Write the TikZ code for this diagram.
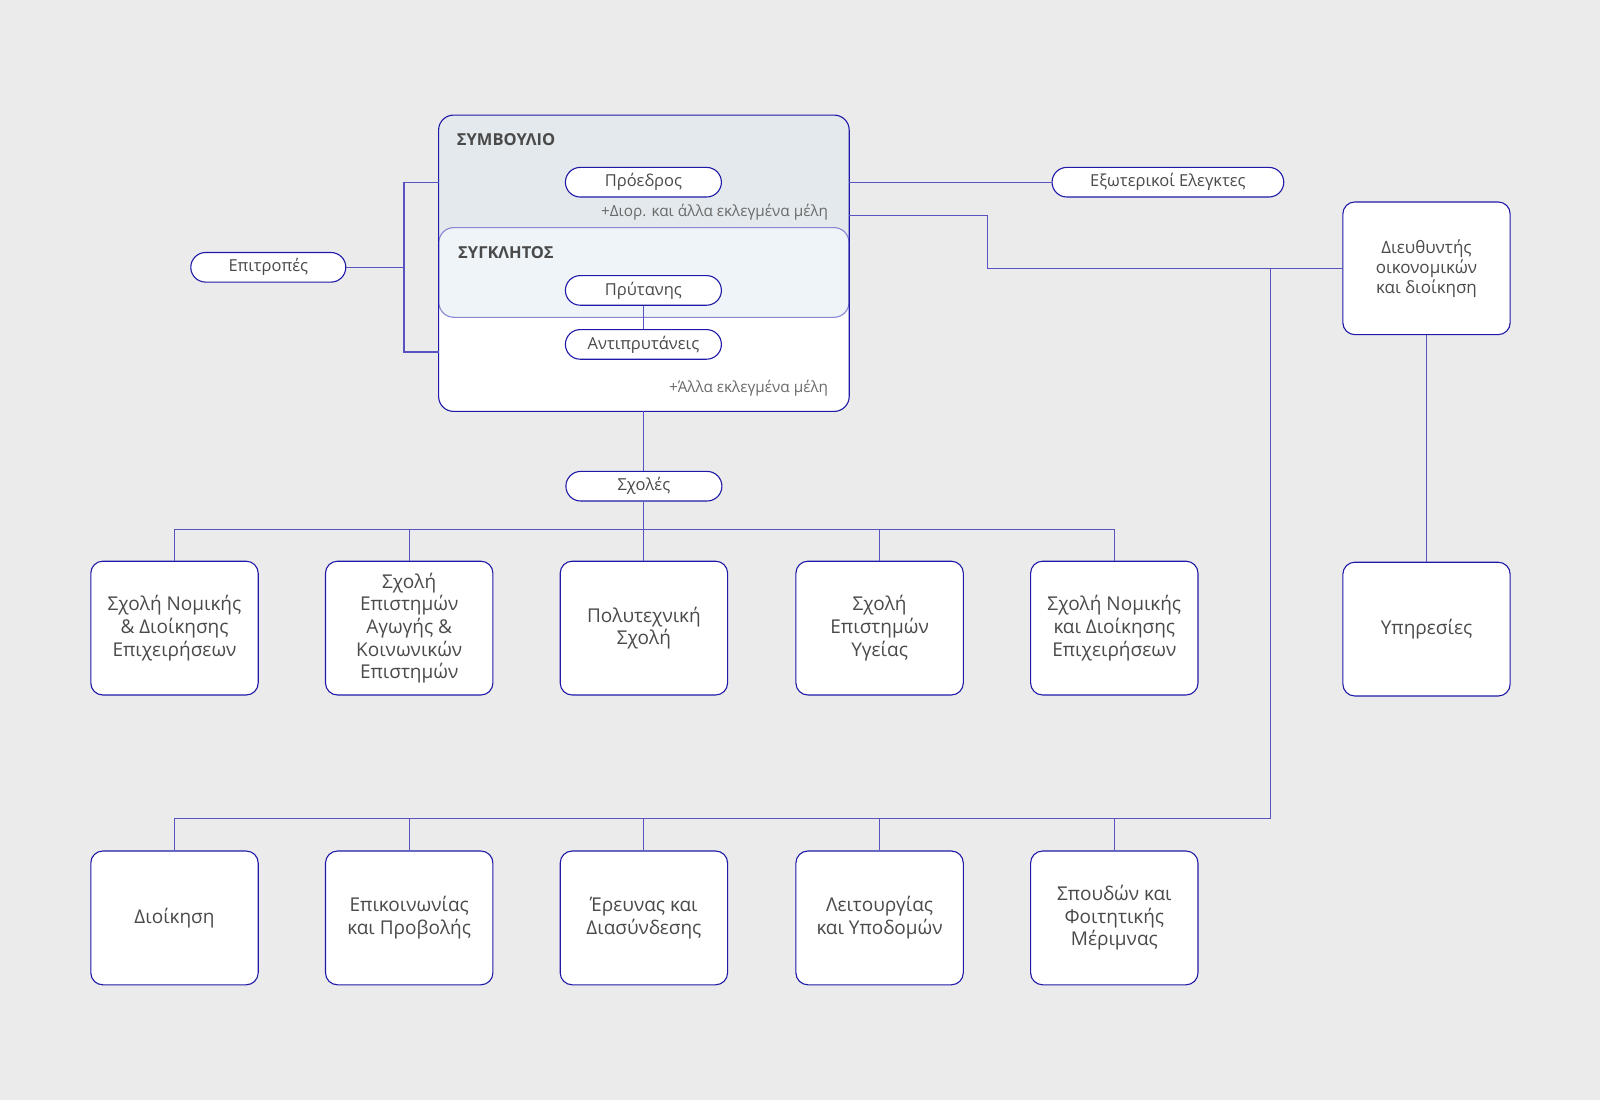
\documentclass[tikz,border=0pt]{standalone}
\usepackage{fontspec}
\setmainfont{Open Sans}
\usetikzlibrary{calc}
\definecolor{bg}{HTML}{EBEBEB}
\definecolor{boxline}{HTML}{1F19A8}
\definecolor{conn}{HTML}{5853C0}
\definecolor{txt}{HTML}{4A4A4A}
\definecolor{subtxt}{HTML}{6A6A6A}
\definecolor{symvfill}{HTML}{E3E9EC}
\definecolor{senfill}{HTML}{EEF4F7}
\definecolor{senline}{HTML}{8A86D4}
\tikzset{
  pill/.style={draw=boxline, line width=1.1pt, fill=white, rounded corners=14.8pt,
    minimum width=156pt, minimum height=29.6pt, inner sep=0pt, text=txt,
    font=\fontsize{16.5}{19}\selectfont},
  card/.style={draw=boxline, line width=1.1pt, fill=white, rounded corners=12pt,
    minimum width=167.4pt, minimum height=133.8pt, inner sep=0pt, text=txt, align=center,
    font=\fontsize{19}{22.7}\selectfont},
  link/.style={draw=conn, line width=1.1pt},
  head/.style={text=txt, inner sep=0pt, font=\bfseries\fontsize{16.5}{19}\selectfont},
  note/.style={text=subtxt, inner sep=0pt, font=\fontsize{15.3}{18}\selectfont},
}
\begin{document}
\begin{tikzpicture}[x=1pt,y=-1pt]
\fill[bg] (0,0) rectangle (1600,1100);
\useasboundingbox (0,0) rectangle (1600,1100);

% council box
\node[draw=none, fill=white, rounded corners=15pt, minimum width=410.2pt, minimum height=295.9pt, inner sep=0pt] (council) at (643.9,263.25) {};
\fill[symvfill, rounded corners=15pt] (438.8,115.3) rectangle (849,290);
\node[draw=senline, line width=1.1pt, fill=senfill, rounded corners=15pt, minimum width=410.2pt, minimum height=89.7pt, inner sep=0pt] (senate) at (643.9,272.45) {};
\draw[boxline, line width=1.1pt, rounded corners=15pt] (council.north west) rectangle (council.south east);

\node[head, anchor=west] (symvt) at (456.7,140) {ΣΥΜΒΟΥΛΙΟ};
\node[head, anchor=west] (sent) at (458,252.3) {ΣΥΓΚΛΗΤΟΣ};
\node[note, anchor=east] (n1) at (828.3,212.3) {+Διορ. και άλλα εκλεγμένα μέλη};
\node[note, anchor=east] (n2) at (828.3,388.3) {+Άλλα εκλεγμένα μέλη};

\node[pill] (proedros) at (643.4,182.2) {Πρόεδρος};
\node[pill] (prytanis) at (643.4,290.4) {Πρύτανης};
\node[pill] (antipry) at (643.4,344.4) {Αντιπρυτάνεις};
\draw[link] (prytanis) -- (antipry);

% committees
\node[pill, minimum width=155pt] (epitropes) at (268.3,267.3) {Επιτροπές};
\coordinate (bt) at (438.8,182.7);
\coordinate (bb) at (438.8,352);
\coordinate (brk) at (404,267.3);
\draw[link] (bt) -| (brk) |- (bb);
\draw[link] (epitropes) -- (brk);

% external auditors
\node[pill, minimum width=231.7pt] (ext) at (1167.9,182.2) {Εξωτερικοί Ελεγκτες};
\draw[link] (council.east |- ext) -- (ext);

% director
\node[card, minimum width=167.3pt, minimum height=132.7pt, font=\fontsize{17}{20}\selectfont] (dir) at (1426.5,268.3) {Διευθυντής\\οικονομικών\\και διοίκηση};
\node[card, minimum width=167.3pt] (serv) at (1426.5,629.1) {Υπηρεσίες};
\draw[link] (dir) -- (serv);
\coordinate (c2) at (849,215.3);
\coordinate (turn) at (987.8,268.3);
\coordinate (junc) at (1270.4,268.3);
\draw[link] (c2) -| (turn) -- (dir);

% schools
\node[pill] (schools) at (643.9,486.2) {Σχολές};
\draw[link] (council) -- (schools);
\node[card] (s1) at (174.5,628.1) {Σχολή Νομικής\\\& Διοίκησης\\Επιχειρήσεων};
\node[card] (s2) at (409.2,628.1) {Σχολή\\Επιστημών\\Αγωγής \&\\Κοινωνικών\\Επιστημών};
\node[card] (s3) at (643.9,628.1) {Πολυτεχνική\\Σχολή};
\node[card] (s4) at (879.6,628.1) {Σχολή\\Επιστημών\\Υγείας};
\node[card] (s5) at (1114.3,628.1) {Σχολή Νομικής\\και Διοίκησης\\Επιχειρήσεων};
\coordinate (busA) at (643.9,529.6);
\draw[link] (schools) -- (busA);
\draw[link] (s1.north) |- (busA) -| (s5.north);
\foreach \n in {s2,s3,s4} \draw[link] (\n.north) -- (\n.north |- busA);

% directorates
\node[card] (d1) at (174.5,917.9) {Διοίκηση};
\node[card] (d2) at (409.2,917.9) {Επικοινωνίας\\και Προβολής};
\node[card] (d3) at (643.9,917.9) {Έρευνας και\\Διασύνδεσης};
\node[card] (d4) at (879.6,917.9) {Λειτουργίας\\και Υποδομών};
\node[card] (d5) at (1114.3,917.9) {Σπουδών και\\Φοιτητικής\\Μέριμνας};
\coordinate (busB) at (1270.4,818.4);
\draw[link] (junc) -- (busB) -| (d1.north);
\foreach \n in {d2,d3,d4,d5} \draw[link] (\n.north) -- (\n.north |- busB);
\end{tikzpicture}
\end{document}
